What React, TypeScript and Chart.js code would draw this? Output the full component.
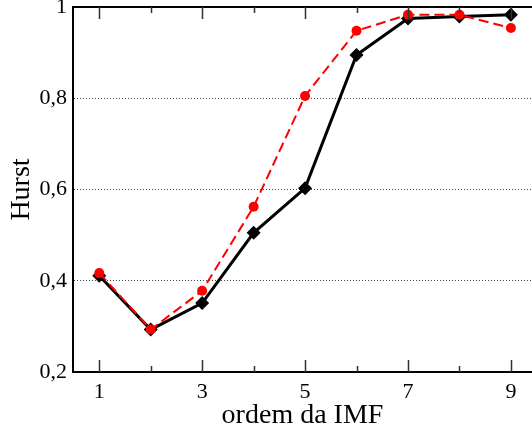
import React, { useEffect, useRef } from "react";
import { Chart, registerables } from "chart.js";

Chart.register(...registerables);

const orders = [1, 2, 3, 4, 5, 6, 7, 8, 9];
const hurstBlack = [0.411, 0.293, 0.351, 0.505, 0.603, 0.895, 0.975, 0.979, 0.983];
const hurstRed = [0.417, 0.293, 0.378, 0.562, 0.805, 0.948, 0.983, 0.983, 0.954];
const xTickLabels = [1, 3, 5, 7, 9];
const yTickValues = [0.2, 0.4, 0.6, 0.8, 1];

const FONT = "'Liberation Serif', 'Times New Roman', serif";

const fmtY = (v: number) => (Math.abs(v - 1) < 1e-9 ? "1" : v.toFixed(1).replace(".", ","));

const framePlugin = {
  id: "framePlugin",
  afterDatasetsDraw(chart: any) {
    const { ctx, chartArea: ca } = chart;
    const xs = chart.scales.x;
    ctx.save();
    ctx.strokeStyle = "#000";
    ctx.lineWidth = 2;
    ctx.beginPath();
    ctx.moveTo(ca.left, ca.top);
    ctx.lineTo(ca.right, ca.top);
    ctx.stroke();
    ctx.strokeStyle = "#333";
    ctx.lineWidth = 1.5;
    for (const v of orders) {
      const px = Math.round(xs.getPixelForValue(v)) + 0.5;
      const len = v % 2 === 1 ? 12 : 6;
      ctx.beginPath();
      ctx.moveTo(px, ca.bottom);
      ctx.lineTo(px, ca.bottom - len);
      ctx.moveTo(px, ca.top);
      ctx.lineTo(px, ca.top + len);
      ctx.stroke();
    }
    ctx.restore();
  },
};

export default function App() {
  const ref = useRef<HTMLCanvasElement | null>(null);
  useEffect(() => {
    if (!ref.current) return;
    const chart = new Chart(ref.current, {
      type: "line",
      data: {
        datasets: [
          {
            label: "red",
            data: orders.map((x, i) => ({ x, y: hurstRed[i] })),
            borderColor: "#ff0000",
            backgroundColor: "#ff0000",
            borderWidth: 2,
            borderDash: [10, 5],
            pointStyle: "circle",
            pointRadius: 5,
            pointBorderWidth: 0,
            tension: 0,
            order: 0,
          },
          {
            label: "black",
            data: orders.map((x, i) => ({ x, y: hurstBlack[i] })),
            borderColor: "#000",
            backgroundColor: "#000",
            borderWidth: 3,
            pointStyle: "rectRot",
            pointRadius: 7,
            pointBorderWidth: 0,
            tension: 0,
            order: 1,
          },
        ],
      },
      options: {
        animation: false,
        responsive: false,
        devicePixelRatio: 1,
        layout: { autoPadding: false, padding: { top: 7, right: 0, left: 0, bottom: 0 } },
        plugins: { legend: { display: false }, tooltip: { enabled: false } },
        scales: {
          x: {
            type: "linear",
            min: 0.49,
            max: 9.41,
            afterBuildTicks: (s: any) => {
              s.ticks = xTickLabels.map((v) => ({ value: v }));
            },
            afterFit: (s: any) => {
              s.height = 58;
              s.paddingLeft = 0;
              s.paddingRight = 0;
            },
            grid: { display: false, drawTicks: false },
            border: { display: true, color: "#000", width: 2 },
            ticks: {
              color: "#000",
              padding: 9,
              font: { family: FONT, size: 22, lineHeight: 1 },
              callback: (v: any) => String(v),
            },
            title: {
              display: true,
              text: "ordem da IMF",
              color: "#000",
              font: { family: FONT, size: 28, lineHeight: 1 },
              padding: { top: -2, bottom: 0 },
            },
          },
          y: {
            type: "linear",
            min: 0.2,
            max: 1,
            afterBuildTicks: (s: any) => {
              s.ticks = yTickValues.map((v) => ({ value: v }));
            },
            afterFit: (s: any) => {
              s.width = 73;
              s.paddingTop = 0;
              s.paddingBottom = 0;
            },
            grid: {
              drawTicks: false,
              lineWidth: 1,
              color: (c: any) => {
                const v = c.tick ? c.tick.value : null;
                if (v === null || Math.abs(v - 0.2) < 1e-6 || Math.abs(v - 1) < 1e-6) return "rgba(0,0,0,0)";
                return "#444";
              },
            },
            border: { display: true, color: "#000", width: 2, dash: [1, 2] },
            ticks: {
              color: "#000",
              padding: 6,
              font: { family: FONT, size: 22, lineHeight: 1 },
              callback: (v: any) => fmtY(Number(v)),
            },
            title: {
              display: true,
              text: "Hurst",
              color: "#000",
              font: { family: FONT, size: 28, lineHeight: 1 },
              padding: { top: 8, bottom: 0 },
            },
          },
        },
      },
      plugins: [framePlugin],
    } as any);
    return () => chart.destroy();
  }, []);
  return (
    <div style={{ position: "absolute", left: 0, top: 0, width: 532, height: 430, background: "#fff" }}>
      <canvas ref={ref} width={532} height={430} />
    </div>
  );
}
